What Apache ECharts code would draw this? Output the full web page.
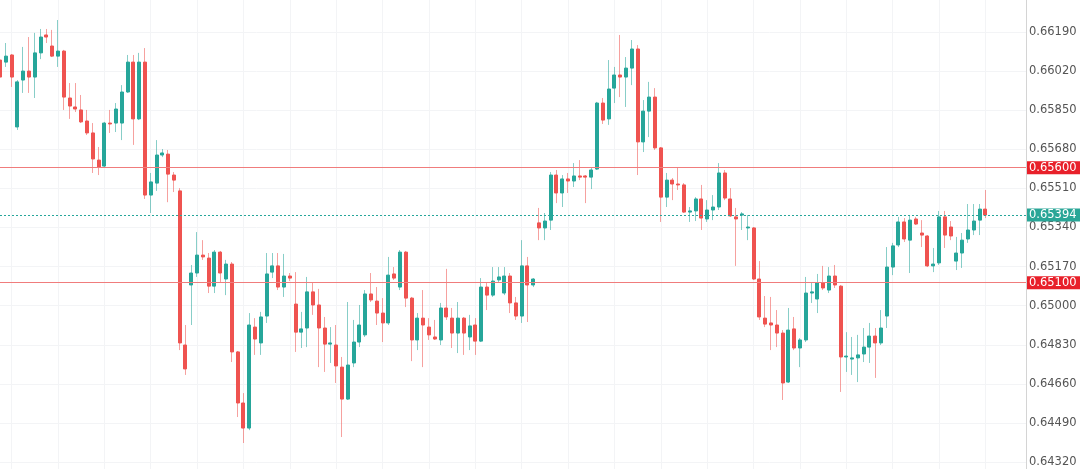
<!DOCTYPE html>
<html>
<head>
<meta charset="utf-8">
<script src="https://cdn.jsdelivr.net/npm/echarts@6/dist/echarts.min.js"></script>
<style>
html,body{margin:0;padding:0;background:#fff;}
#chart{width:1080px;height:469px;}
</style>
</head>
<body>
<div id="chart"></div>
<script>
// OHLC prices, one entry per candle, left to right
const open = [0.66068,0.66059,0.66090,0.65777,0.65981,0.66020,0.65994,0.66099,0.66177,0.66129,
0.66085,0.66107,0.65903,0.65864,0.65851,0.65803,0.65751,0.65633,0.65607,0.65794,
0.65794,0.65794,0.65929,0.66059,0.65812,0.66059,0.65481,0.65533,0.65655,0.65659,
0.65568,0.65499,0.64829,0.65090,0.65142,0.65220,0.65207,0.65085,0.65233,0.65116,
0.65181,0.64799,0.64577,0.64468,0.64907,0.64838,0.64955,0.65146,0.65173,0.65081,
0.65129,0.65007,0.64885,0.64903,0.65060,0.65003,0.64903,0.64833,0.64829,0.64733,
0.64594,0.64751,0.64842,0.64873,0.65051,0.65020,0.64968,0.64925,0.65138,0.65081,
0.65233,0.65033,0.64851,0.64946,0.64907,0.64864,0.64851,0.64990,0.64946,0.64881,
0.64946,0.64864,0.64916,0.64846,0.65081,0.65046,0.65112,0.65055,0.65129,0.65012,
0.64955,0.65173,0.65090,0.65360,0.65338,0.65372,0.65568,0.65490,0.65551,0.65542,
0.65564,0.65564,0.65559,0.65594,0.65881,0.65812,0.65946,0.66003,0.65994,0.66033,
0.66116,0.65712,0.65846,0.65907,0.65686,0.65472,0.65546,0.65529,0.65525,0.65407,
0.65412,0.65464,0.65377,0.65416,0.65429,0.65577,0.65464,0.65386,0.65394,0.65338,
0.65338,0.65116,0.64946,0.64925,0.64916,0.64881,0.64668,0.64899,0.64816,0.64851,
0.65055,0.65029,0.65099,0.65068,0.65129,0.65085,0.64777,0.64768,0.64773,0.64790,
0.64820,0.64868,0.64838,0.64955,0.65168,0.65264,0.65364,0.65285,0.65377,0.65316,
0.65303,0.65173,0.65186,0.65386,0.65342,0.65194,0.65229,0.65290,0.65329,0.65372,
0.65420];
const close = [0.65994,0.66085,0.65994,0.65973,0.66020,0.65994,0.66099,0.66168,0.66168,0.66085,
0.66107,0.65907,0.65868,0.65855,0.65799,0.65751,0.65638,0.65603,0.65794,0.65790,
0.65855,0.65929,0.66059,0.65812,0.66059,0.65481,0.65538,0.65655,0.65664,0.65572,
0.65546,0.64838,0.64725,0.65142,0.65220,0.65212,0.65085,0.65233,0.65142,0.65181,
0.64799,0.64577,0.64468,0.64916,0.64855,0.64951,0.65138,0.65173,0.65081,0.65129,
0.65120,0.64885,0.64899,0.65060,0.65003,0.64903,0.64833,0.64838,0.64738,0.64594,
0.64742,0.64842,0.64916,0.65051,0.65025,0.64968,0.64925,0.65133,0.65120,0.65233,
0.65033,0.64851,0.64946,0.64916,0.64873,0.64855,0.64990,0.64951,0.64881,0.64946,
0.64881,0.64912,0.64846,0.65081,0.65046,0.65107,0.65125,0.65129,0.65012,0.64955,
0.65173,0.65090,0.65116,0.65338,0.65368,0.65568,0.65490,0.65551,0.65542,0.65564,
0.65559,0.65559,0.65590,0.65881,0.65807,0.65942,0.66003,0.65994,0.66033,0.66116,
0.65712,0.65846,0.65907,0.65686,0.65472,0.65546,0.65529,0.65525,0.65407,0.65412,
0.65464,0.65381,0.65416,0.65429,0.65577,0.65468,0.65390,0.65377,0.65399,0.65342,
0.65116,0.64951,0.64920,0.64916,0.64881,0.64664,0.64894,0.64816,0.64851,0.65055,
0.65060,0.65099,0.65077,0.65129,0.65090,0.64777,0.64781,0.64773,0.64786,0.64820,
0.64868,0.64838,0.64903,0.65168,0.65260,0.65364,0.65290,0.65372,0.65355,0.65307,
0.65173,0.65181,0.65386,0.65307,0.65303,0.65229,0.65285,0.65329,0.65368,0.65420,
0.65394];
const low = [0.65981,0.66038,0.65951,0.65764,0.65925,0.65925,0.65903,0.66072,0.66142,0.66081,
0.66038,0.65851,0.65812,0.65842,0.65794,0.65742,0.65577,0.65568,0.65599,0.65751,
0.65755,0.65720,0.65925,0.65699,0.65807,0.65464,0.65403,0.65499,0.65646,0.65450,
0.65494,0.64807,0.64699,0.64916,0.65125,0.65199,0.65055,0.65055,0.65103,0.65046,
0.64755,0.64516,0.64403,0.64459,0.64786,0.64786,0.64925,0.65120,0.65068,0.65038,
0.65107,0.64799,0.64816,0.64820,0.64960,0.64733,0.64712,0.64751,0.64664,0.64429,
0.64590,0.64733,0.64820,0.64864,0.65016,0.64916,0.64842,0.64916,0.65112,0.65068,
0.64994,0.64759,0.64807,0.64733,0.64851,0.64851,0.64829,0.64938,0.64816,0.64794,
0.64786,0.64807,0.64786,0.64842,0.64981,0.65038,0.65103,0.65046,0.64968,0.64938,
0.64925,0.64929,0.65081,0.65285,0.65285,0.65329,0.65446,0.65429,0.65490,0.65516,
0.65546,0.65446,0.65507,0.65590,0.65790,0.65786,0.65881,0.65907,0.65864,0.65959,
0.65568,0.65668,0.65733,0.65677,0.65364,0.65429,0.65459,0.65503,0.65403,0.65364,
0.65368,0.65329,0.65364,0.65372,0.65416,0.65459,0.65386,0.65173,0.65329,0.65285,
0.65112,0.64938,0.64907,0.64807,0.64820,0.64590,0.64664,0.64807,0.64733,0.64842,
0.65012,0.64968,0.65068,0.65055,0.65077,0.64625,0.64712,0.64699,0.64668,0.64755,
0.64751,0.64686,0.64829,0.64903,0.65133,0.65255,0.65277,0.65142,0.65351,0.65255,
0.65168,0.65146,0.65177,0.65251,0.65285,0.65155,0.65164,0.65273,0.65307,0.65307,
0.65381];
const high = [0.66081,0.66142,0.66094,0.65981,0.66125,0.66168,0.66186,0.66203,0.66203,0.66199,
0.66242,0.66112,0.65968,0.65968,0.65916,0.65851,0.65794,0.65690,0.65799,0.65851,
0.65881,0.65959,0.66090,0.66090,0.66099,0.66120,0.65577,0.65720,0.65681,0.65677,
0.65581,0.65511,0.64916,0.65177,0.65320,0.65285,0.65229,0.65242,0.65238,0.65199,
0.65190,0.64803,0.64620,0.64968,0.64946,0.64973,0.65229,0.65229,0.65229,0.65225,
0.65142,0.65146,0.64973,0.65125,0.65099,0.65073,0.64951,0.64907,0.64916,0.64777,
0.65016,0.64938,0.65003,0.65068,0.65142,0.65081,0.65033,0.65212,0.65168,0.65242,
0.65238,0.65038,0.64968,0.65068,0.64946,0.64938,0.65012,0.65160,0.64990,0.65016,
0.64951,0.64960,0.64946,0.65120,0.65099,0.65168,0.65168,0.65168,0.65142,0.65038,
0.65285,0.65212,0.65120,0.65425,0.65403,0.65581,0.65590,0.65568,0.65577,0.65620,
0.65633,0.65568,0.65599,0.65886,0.65903,0.66068,0.66038,0.66177,0.66081,0.66155,
0.66133,0.65894,0.65973,0.65946,0.65690,0.65577,0.65555,0.65599,0.65533,0.65429,
0.65472,0.65525,0.65459,0.65481,0.65620,0.65590,0.65511,0.65425,0.65407,0.65394,
0.65342,0.65194,0.65042,0.65038,0.64981,0.64894,0.64990,0.64951,0.64859,0.65125,
0.65099,0.65138,0.65173,0.65168,0.65177,0.65090,0.64885,0.64864,0.64873,0.64903,
0.64925,0.64903,0.64981,0.65255,0.65273,0.65386,0.65381,0.65390,0.65386,0.65372,
0.65307,0.65251,0.65412,0.65412,0.65368,0.65299,0.65316,0.65442,0.65442,0.65442,
0.65503];

// price-axis tick labels shown on the right
const yTicks = [0.64320,0.64490,0.64660,0.64830,0.65000,0.65170,0.65340,0.65510,0.65680,0.65850,0.66020,0.66190];
// horizontal levels
const levelLines = [0.65600, 0.65100];
const lastPrice = 0.65394;
// visible price range of the plot
const yMin = 0.64290, yMax = 0.66329;
// number of time slots on the x axis (candles + empty space on the right)
const slotCount = 178;

const slots = Array.from({length: slotCount}, (_, i) => String(i));
const fullData = open.map((o, i) => [o, close[i], low[i], high[i]]);
const bodyData = open.map((o, i) => [o, close[i], Math.min(o, close[i]), Math.max(o, close[i])]);

const UP = '#26a69a', DOWN = '#ef5350';
const FONT = 'DejaVu Sans';

const chart = echarts.init(document.getElementById('chart'), null, {renderer: 'canvas'});
chart.setOption({
  animation: false,
  backgroundColor: '#ffffff',
  grid: {left: 0, right: 54, top: 0, bottom: 0, containLabel: false},
  xAxis: {
    type: 'category',
    data: slots,
    boundaryGap: false,
    axisLine: {show: false},
    axisTick: {show: false},
    axisLabel: {show: false},
    splitLine: {show: true, interval: (idx) => idx % 8 === 2, lineStyle: {color: '#f3f4f6', width: 1}}
  },
  yAxis: {
    type: 'value',
    position: 'right',
    min: yMin,
    max: yMax,
    axisLine: {show: true, lineStyle: {color: '#d4d4d4', width: 1}},
    axisTick: {show: false, customValues: yTicks},
    axisLabel: {
      customValues: yTicks,
      formatter: (v) => v.toFixed(5),
      margin: 3,
      color: '#555555',
      fontSize: 11.5,
      fontFamily: FONT
    },
    splitLine: {show: true, lineStyle: {color: '#f3f4f6', width: 1}}
  },
  series: [
    {
      name: 'wick',
      type: 'candlestick',
      data: fullData,
      barWidth: 1,
      itemStyle: {
        color: 'rgba(38,166,154,0.55)', color0: 'rgba(239,83,80,0.55)',
        borderColor: 'rgba(38,166,154,0.55)', borderColor0: 'rgba(239,83,80,0.55)',
        borderWidth: 1
      },
      markLine: {
        silent: true,
        precision: 5,
        symbol: ['none', 'none'],
        animation: false,
        data: [
          {yAxis: levelLines[0], lineStyle: {color: '#f07c7c', width: 1.2, type: 'solid'},
           label: {backgroundColor: '#e8202a'}},
          {yAxis: levelLines[1], lineStyle: {color: '#f07c7c', width: 1.2, type: 'solid'},
           label: {backgroundColor: '#e8202a'}},
          {yAxis: lastPrice, lineStyle: {color: '#26a69a', width: 1, type: [2, 2]},
           label: {backgroundColor: '#2aa697'}}
        ],
        label: {
          show: true,
          position: 'end',
          distance: 1,
          formatter: (p) => Number(p.value).toFixed(5),
          color: '#ffffff',
          fontSize: 11.5,
          fontFamily: FONT,
          padding: [1, 4, 0, 2]
        }
      }
    },
    {
      name: 'body',
      type: 'candlestick',
      data: bodyData,
      barWidth: 3.5,
      itemStyle: {
        color: UP, color0: DOWN, borderColor: UP, borderColor0: DOWN, borderWidth: 1
      }
    }
  ]
});
</script>
</body>
</html>
